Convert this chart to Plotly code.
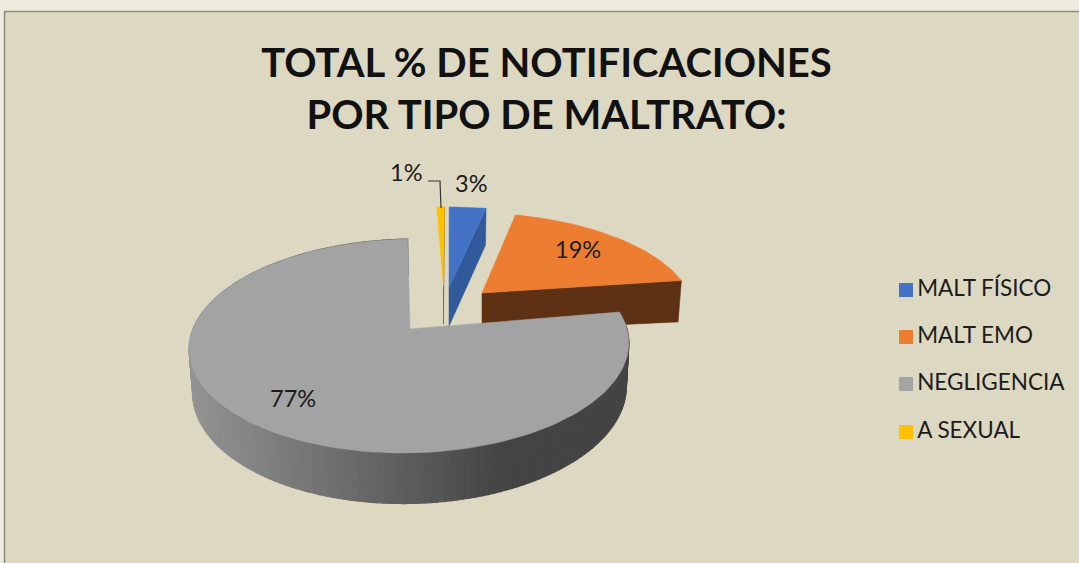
import math
import plotly.graph_objects as go

# ---- data ----
categories = ["MALT FÍSICO", "MALT EMO", "NEGLIGENCIA", "A SEXUAL"]
percent_values = [3, 19, 77, 1]
chart_title = "TOTAL % DE NOTIFICACIONES<br>POR TIPO DE MALTRATO:"

# ---- styling ----
top_colors = ["#4472c4", "#ed7d31", "#a3a3a3", "#ffc000"]
side_colors = ["#315a9b", "#5e3114", None, "#6b5300"]
PANEL = "#ddd8c2"
FONT = "Lato, Carlito, 'Open Sans', sans-serif"

# ---- projection (screen-pixel axes; tilted disc with perspective) ----
RX, RY, K, DEPTH, VANISH_X = 217.0, 104.3, 0.159, 42.5, 450.0
# exploded position (top-surface apex) and look of each slice
apex = [(449, 288), (482, 293), (410, 329), (443.5, 286)]
scale_x = [1.05, 0.96, 1.0, 0.65]
scale_y = [0.90, 0.89, 1.0, 0.88]
shear_y = [0, 2.5, 0, 0]
rotate = [0, 1.3, 1.2, 0]


def project(i, deg):
    a = math.radians(deg + rotate[i])
    u, v = math.sin(a), math.cos(a)
    s = 1 / (1 + K * v)
    ax, ay = apex[i]
    x = ax + (ax - VANISH_X) * (s - 1) + RX * scale_x[i] * u * s
    y = ay - RY * scale_y[i] * v * s + shear_y[i] * u * s
    return x, y, DEPTH * s


def lower(x):
    # the wall's lower edge leans towards the vanishing point
    return x + (VANISH_X - x) * 0.014


def arc(a0, a1, step=1.5):
    n = max(2, int(abs(a1 - a0) / step))
    return [a0 + (a1 - a0) * k / n for k in range(n + 1)]


def poly(pts, color, lw=0.5):
    xs = [p[0] for p in pts] + [pts[0][0]]
    ys = [p[1] for p in pts] + [pts[0][1]]
    return go.Scatter(x=xs, y=ys, mode="lines", fill="toself", fillcolor=color,
                      line=dict(width=lw, color=color), showlegend=False, hoverinfo="skip")


def grey_at(x):
    t = min(1, max(0, (x - 190) / (503 - 190)))
    c = round(0x93 + (0x44 - 0x93) * t)
    return f"rgb({c},{c},{c})"


total = sum(percent_values)
bounds = []
acc = 0
for v in percent_values:
    bounds.append((acc * 360 / total, (acc + v) * 360 / total))
    acc += v

fig = go.Figure()

for i in [3, 0, 1, 2]:
    a0, a1 = bounds[i]
    rim = [project(i, a) for a in arc(a0, a1)]
    ax, ay = apex[i]
    d_apex = DEPTH * 0.9
    if i == 2:
        angles = arc(a0, a1, 1.5)
        for a, b in zip(angles[:-1], angles[1:]):
            pa, pb = project(i, a), project(i, b)
            fig.add_trace(poly([(pa[0], pa[1]), (pb[0], pb[1]),
                                (lower(pb[0]), pb[1] + pb[2]), (lower(pa[0]), pa[1] + pa[2])],
                               grey_at((pa[0] + pb[0]) / 2), 1.2))
    else:
        # radial cut wall facing the viewer, on the clockwise edge of the slice
        e = rim[-1]
        fig.add_trace(poly([(ax, ay), (e[0], e[1]), (lower(e[0]), e[1] + e[2]),
                            (ax, ay + d_apex)], side_colors[i]))
    fig.add_trace(poly([(ax, ay)] + [(p[0], p[1]) for p in rim], top_colors[i]))

# leader line of the smallest slice
leader_x = [428, 440, 441]
leader_y = [181, 181, 208]
fig.add_trace(go.Scatter(x=leader_x, y=leader_y, mode="lines",
                         line=dict(color="#333333", width=1.2),
                         showlegend=False, hoverinfo="skip"))

# legend column (swatch + label for every category)
legend_y = [290, 337, 384, 432]
for name, color, ly in zip(categories, top_colors, legend_y):
    fig.add_trace(go.Scatter(x=[906], y=[ly], mode="markers+text", name=name,
                             text=["\u200a" + name], textposition="middle right",
                             textfont=dict(family=FONT, size=22.5, color="#1c1c1c"),
                             marker=dict(symbol="square", size=14, color=color),
                             showlegend=False, hoverinfo="name"))

label_pos = [(471, 183), (578, 249), (293, 398), (406, 172)]
annotations = [
    dict(x=p[0], y=p[1], xref="x", yref="y", text=f"{v}%", showarrow=False,
         font=dict(family=FONT, size=23.5, color="#1c1c1c"))
    for p, v in zip(label_pos, percent_values)
]

fig.update_layout(
    width=1079, height=563, margin=dict(l=0, r=0, t=0, b=0),
    paper_bgcolor="#eeebdf", plot_bgcolor="rgba(0,0,0,0)",
    xaxis=dict(range=[0, 1079], visible=False, fixedrange=True),
    yaxis=dict(range=[563, 0], visible=False, fixedrange=True),
    title=dict(text=chart_title, x=0.5065, xanchor="center", y=0.8625, yanchor="top",
               font=dict(family=FONT, size=40, color="#111111", weight="bold")),
    showlegend=False,
    shapes=[dict(type="rect", xref="x", yref="y", x0=4.5, y0=11.5, x1=1100, y1=600,
                 fillcolor=PANEL, line=dict(color="#8b8b83", width=1.5), layer="below")],
    annotations=annotations,
)

fig.write_html("out.html", config={"displayModeBar": False},
               post_script="document.body.style.margin='0';")
